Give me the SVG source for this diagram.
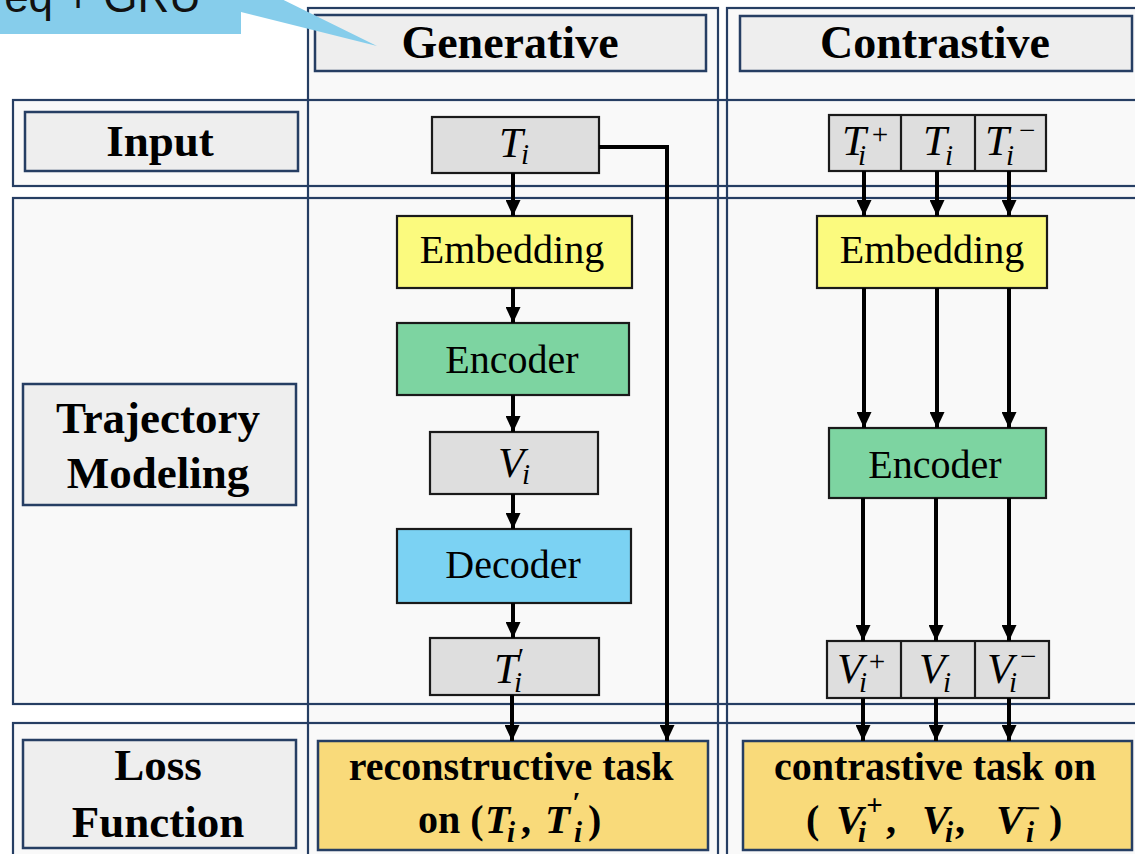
<svg xmlns="http://www.w3.org/2000/svg" width="1135" height="854" viewBox="0 0 1135 854">
  <style>
    .frame { fill: none; stroke: #263E63; stroke-width: 2.2; }
    .band { fill: #F9F9F9; }
    .hdr { fill: #EEEEEE; stroke: #263E63; stroke-width: 2.5; }
    .node { stroke: #1A1A1A; stroke-width: 2.2; }
    .gray { fill: #DEDEDE; }
    .yellow { fill: #FBFA7E; }
    .green { fill: #7DD4A1; }
    .blue { fill: #7BD2F3; }
    .loss { fill: #F9DA7A; stroke: #263E63; stroke-width: 2.5; }
    .lbl { font-family: "Liberation Serif", "Times New Roman", serif; font-weight: bold; font-size: 45px; fill: #000; text-anchor: middle; }
    .txt { font-family: "Liberation Serif", "Times New Roman", serif; font-size: 40px; fill: #000; text-anchor: middle; }
    .ltxt { font-family: "Liberation Serif", "Times New Roman", serif; font-weight: bold; font-size: 40px; fill: #000; }
    .m { font-family: "Liberation Serif", "Times New Roman", serif; font-style: italic; font-size: 43px; fill: #000; }
    .mb { font-family: "Liberation Serif", "Times New Roman", serif; font-style: italic; font-weight: bold; font-size: 41px; fill: #000; }
    .s { font-size: 29px; }
    .divider { stroke: #1A1A1A; stroke-width: 2.2; }
    .conn { fill: none; stroke: #000; stroke-width: 4; marker-end: url(#arrow); }
  </style>
  <defs>
    <marker id="arrow" viewBox="0 0 16 15" markerWidth="16" markerHeight="15" refX="16" refY="7.5" orient="auto" markerUnits="userSpaceOnUse">
      <path d="M0,0 L16,7.5 L0,15 z" fill="#000"/>
    </marker>
  </defs>

  <rect x="0" y="0" width="1135" height="854" fill="#FFFFFF"/>

  <!-- background bands: rows and columns -->
  <g id="bands">
    <rect class="band" x="308" y="8" width="410" height="860"/>
    <rect class="band" x="727" y="8" width="420" height="860"/>
    <rect class="band" x="13" y="100" width="1140" height="86"/>
    <rect class="band" x="13" y="198" width="1140" height="506"/>
    <rect class="band" x="13" y="723" width="1140" height="150"/>
  </g>
  <g id="frames">
    <rect class="frame" x="308" y="8" width="410" height="860"/>
    <rect class="frame" x="727" y="8" width="420" height="860"/>
    <rect class="frame" x="13" y="100" width="1140" height="86"/>
    <rect class="frame" x="13" y="198" width="1140" height="506"/>
    <rect class="frame" x="13" y="723" width="1140" height="150"/>
  </g>

  <!-- column headers -->
  <g id="hdr-generative">
    <rect class="hdr" x="315" y="15" width="391" height="56"/>
    <text class="lbl" x="510" y="58" style="font-size:46px">Generative</text>
  </g>
  <g id="hdr-contrastive">
    <rect class="hdr" x="740" y="16" width="392" height="55"/>
    <text class="lbl" x="935" y="58" style="font-size:46px">Contrastive</text>
  </g>

  <!-- row labels -->
  <g id="row-input">
    <rect class="hdr" x="25" y="112" width="273" height="59"/>
    <text class="lbl" x="160" y="156">Input</text>
  </g>
  <g id="row-modeling">
    <rect class="hdr" x="23" y="384" width="273" height="121"/>
    <text class="lbl" x="158" y="433">Trajectory</text>
    <text class="lbl" x="158" y="488">Modeling</text>
  </g>
  <g id="row-loss">
    <rect class="hdr" x="23" y="740" width="273" height="108"/>
    <text class="lbl" x="158" y="780">Loss</text>
    <text class="lbl" x="158" y="837">Function</text>
  </g>

  <!-- generative branch -->
  <g id="gen-input">
    <rect class="node gray" x="432" y="117" width="167" height="56"/>
    <text class="m"><tspan x="499" y="157">T</tspan><tspan class="s" x="521" y="164">i</tspan></text>
  </g>
  <g id="gen-embedding">
    <rect class="node yellow" x="397" y="216" width="235" height="72"/>
    <text class="txt" x="512" y="263">Embedding</text>
  </g>
  <g id="gen-encoder">
    <rect class="node green" x="397" y="323" width="232" height="72"/>
    <text class="txt" x="512" y="373">Encoder</text>
  </g>
  <g id="gen-vector">
    <rect class="node gray" x="430" y="432" width="168" height="62"/>
    <text class="m"><tspan x="498" y="477">V</tspan><tspan class="s" x="522" y="484">i</tspan></text>
  </g>
  <g id="gen-decoder">
    <rect class="node blue" x="397" y="529" width="234" height="74"/>
    <text class="txt" x="513" y="578">Decoder</text>
  </g>
  <g id="gen-output">
    <rect class="node gray" x="430" y="638" width="169" height="57"/>
    <text class="m"><tspan x="494" y="683">T</tspan><tspan class="s" x="516" y="668">′</tspan><tspan class="s" x="514" y="692">i</tspan></text>
  </g>
  <g id="gen-loss">
    <rect class="loss" x="318" y="741" width="390" height="109"/>
    <text class="ltxt" x="511" y="780" text-anchor="middle">reconstructive task</text>
    <text class="ltxt" x="418" y="833">on (</text>
    <text class="mb"><tspan x="485" y="833">T</tspan><tspan class="s" x="507" y="842">i</tspan></text>
    <text class="ltxt" x="521" y="833">,</text>
    <text class="mb"><tspan x="545" y="833">T</tspan><tspan class="s" x="572" y="812">′</tspan><tspan class="s" x="574" y="842">i</tspan></text>
    <text class="ltxt" x="588" y="833">)</text>
  </g>

  <!-- contrastive branch -->
  <g id="con-input">
    <rect class="node gray" x="829" y="115" width="217" height="56"/>
    <line class="divider" x1="901" y1="115" x2="901" y2="171"/>
    <line class="divider" x1="975" y1="115" x2="975" y2="171"/>
    <text class="m"><tspan x="842" y="155">T</tspan><tspan class="s" x="858" y="165">i</tspan><tspan class="s" x="870" y="144">+</tspan></text>
    <text class="m"><tspan x="923" y="155">T</tspan><tspan class="s" x="945" y="165">i</tspan></text>
    <text class="m"><tspan x="985" y="155">T</tspan><tspan class="s" x="1006" y="165">i</tspan><tspan class="s" x="1017" y="140">−</tspan></text>
  </g>
  <g id="con-embedding">
    <rect class="node yellow" x="817" y="216" width="230" height="72"/>
    <text class="txt" x="932" y="263">Embedding</text>
  </g>
  <g id="con-encoder">
    <rect class="node green" x="829" y="428" width="217" height="70"/>
    <text class="txt" x="935" y="478">Encoder</text>
  </g>
  <g id="con-vectors">
    <rect class="node gray" x="827" y="641" width="222" height="57"/>
    <line class="divider" x1="901" y1="641" x2="901" y2="698"/>
    <line class="divider" x1="975" y1="641" x2="975" y2="698"/>
    <text class="m"><tspan x="837" y="683">V</tspan><tspan class="s" x="859" y="692">i</tspan><tspan class="s" x="867" y="671">+</tspan></text>
    <text class="m"><tspan x="919" y="683">V</tspan><tspan class="s" x="943" y="692">i</tspan></text>
    <text class="m"><tspan x="987" y="683">V</tspan><tspan class="s" x="1009" y="692">i</tspan><tspan class="s" x="1018" y="666">−</tspan></text>
  </g>
  <g id="con-loss">
    <rect class="loss" x="743" y="741" width="389" height="109"/>
    <text class="ltxt" x="935" y="780" text-anchor="middle">contrastive task on</text>
    <text class="ltxt" x="806" y="833">(</text>
    <text class="mb"><tspan x="836" y="833">V</tspan><tspan class="s" x="866" y="815">+</tspan><tspan class="s" x="858" y="842">i</tspan></text>
    <text class="ltxt" x="886" y="833">,</text>
    <text class="mb"><tspan x="922" y="833">V</tspan><tspan class="s" x="945" y="842">i</tspan></text>
    <text class="ltxt" x="955" y="833">,</text>
    <text class="mb"><tspan x="996" y="833">V</tspan><tspan class="s" x="1023" y="818">−</tspan><tspan class="s" x="1026" y="842">i</tspan></text>
    <text class="ltxt" x="1049" y="833">)</text>
  </g>

  <!-- connectors -->
  <g id="connectors">
    <path class="conn" d="M513,173 V216"/>
    <path class="conn" d="M513,288 V323"/>
    <path class="conn" d="M513,395 V432"/>
    <path class="conn" d="M513,494 V529"/>
    <path class="conn" d="M513,603 V638"/>
    <path class="conn" d="M512,695 V741"/>
    <path class="conn" d="M599,147 H667 V741"/>

    <path class="conn" d="M864,171 V216"/>
    <path class="conn" d="M937,171 V216"/>
    <path class="conn" d="M1009,171 V216"/>
    <path class="conn" d="M864,288 V428"/>
    <path class="conn" d="M937,288 V428"/>
    <path class="conn" d="M1009,288 V428"/>
    <path class="conn" d="M863,498 V641"/>
    <path class="conn" d="M936,498 V641"/>
    <path class="conn" d="M1009,498 V641"/>
    <path class="conn" d="M863,698 V741"/>
    <path class="conn" d="M936,698 V741"/>
    <path class="conn" d="M1009,698 V741"/>
  </g>

  <!-- callout at the top-left corner -->
  <g id="callout">
    <polygon points="-5,-20 243,-20 377,46 241,12 241,34 -5,34" fill="#86CDEB"/>
    <text x="201" y="12" text-anchor="end" font-family="Liberation Sans, Arial, sans-serif" font-size="44" fill="#111">eq + GRU</text>
  </g>
</svg>
